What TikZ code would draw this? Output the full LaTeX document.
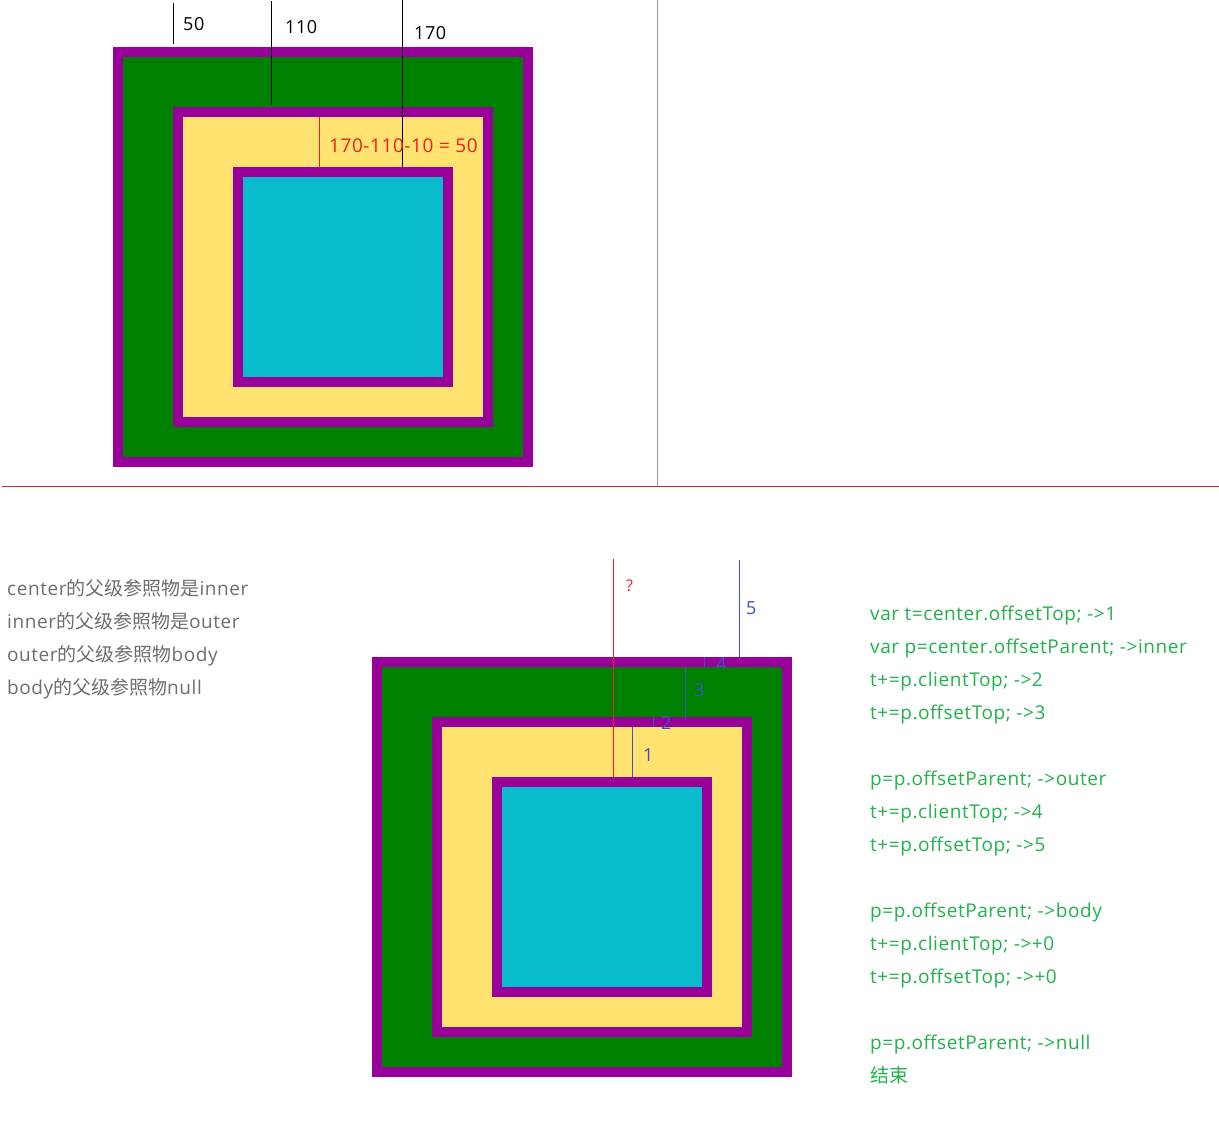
\documentclass[tikz,border=0pt]{standalone}
\usepackage{fontspec}
\setmainfont[LetterSpace=3]{Open Sans}
\newfontfamily\cjk{Noto Sans CJK SC}
\definecolor{bpurple}{HTML}{990099}
\definecolor{bgreen}{HTML}{008000}
\definecolor{byellow}{HTML}{FFE26F}
\definecolor{bcyan}{HTML}{08BCCE}
\definecolor{tred}{HTML}{F01E23}
\definecolor{tblue}{HTML}{3F51C8}
\definecolor{tgreen}{HTML}{22B14C}
\definecolor{tgray}{HTML}{6E6E6E}
\tikzset{
  thinline/.style={line width=1pt},
  lbl/.style={inner sep=0pt, anchor=base west, font=\fontsize{18}{20}\selectfont},
  codetxt/.style={inner sep=0pt, anchor=base west, text=tgreen, font=\fontsize{19}{21}\selectfont},
  graytxt/.style={inner sep=0pt, anchor=base west, text=tgray, font=\fontsize{19}{21}\selectfont},
}
\newcommand{\nestboxes}[2]{%
  \begin{scope}[shift={(#1,#2)}]
    \fill[bpurple] (113,47) rectangle (533,467);
    \fill[bgreen] (123,57) rectangle (523,457);
    \fill[bpurple] (173,107) rectangle (493,427);
    \fill[byellow] (183,117) rectangle (483,417);
    \fill[bpurple] (233,167) rectangle (453,387);
    \fill[bcyan] (243,177) rectangle (443,377);
  \end{scope}}
\begin{document}
\begin{tikzpicture}[x=1pt,y=-1pt]
\useasboundingbox[fill=white] (0,0) rectangle (1219,1139);
% dividers
\draw[thinline, gray!80] (657,0) -- (657,486);
\draw[thinline, tred] (2,486.5) -- (1219,486.5);
% top diagram
\nestboxes{0}{0}
\coordinate (a1) at (173.5,3); \coordinate (a2) at (173.5,44);
\coordinate (b1) at (271.5,1); \coordinate (b2) at (271.5,105);
\coordinate (c1) at (402.5,0); \coordinate (c2) at (402.5,167);
\coordinate (r1) at (319.5,117); \coordinate (r2) at (319.5,168);
\draw[thinline, black] (a1) -- (a2);
\draw[thinline, black] (b1) -- (b2);
\draw[thinline, black] (c1) -- (c2);
\draw[thinline, tred] (r1) -- (r2);
\node[lbl] (l50) at (183,31) {50};
\node[lbl] (l110) at (285,34) {110};
\node[lbl] (l170) at (414,40) {170};
\node[lbl, text=tred, font=\fontsize{19}{20}\selectfont] (eq) at (329,153) {170-110-10 = 50};
% bottom diagram
\nestboxes{259}{610}
\coordinate (q1) at (613.5,559); \coordinate (q2) at (613.5,777);
\coordinate (f1) at (739.5,560); \coordinate (f2) at (739.5,658);
\coordinate (g1) at (704.5,657); \coordinate (g2) at (704.5,667);
\coordinate (h1) at (685.5,667); \coordinate (h2) at (685.5,718);
\coordinate (i1) at (653.5,717); \coordinate (i2) at (653.5,727);
\coordinate (j1) at (632.5,727); \coordinate (j2) at (632.5,777);
\draw[thinline, tred] (q1) -- (q2);
\draw[thinline, tblue] (f1) -- (f2);
\draw[thinline, tblue] (g1) -- (g2);
\draw[thinline, tblue] (h1) -- (h2);
\draw[thinline, tblue] (i1) -- (i2);
\draw[thinline, tblue] (j1) -- (j2);
\node[lbl, text=tred, font=\fontsize{16}{18}\selectfont] (qm) at (626,591) {?};
\node[lbl, text=tblue] (n5) at (746,614) {5};
\node[lbl, text=tblue] (n4) at (716,670) {4};
\node[lbl, text=tblue] (n3) at (694,696) {3};
\node[lbl, text=tblue] (n2) at (661,729) {2};
\node[lbl, text=tblue] (n1) at (643,761) {1};
% left text
\node[graytxt] (t1) at (7,595) {center{\cjk 的父级参照物是}inner};
\node[graytxt] (t2) at (7,628) {inner{\cjk 的父级参照物是}outer};
\node[graytxt] (t3) at (7,661) {outer{\cjk 的父级参照物}body};
\node[graytxt] (t4) at (7,694) {body{\cjk 的父级参照物}null};
% right code
\node[codetxt] (c01) at (870,620) {var t=center.offsetTop; ->1};
\node[codetxt] (c02) at (870,653) {var p=center.offsetParent; ->inner};
\node[codetxt] (c03) at (870,686) {t+=p.clientTop; ->2};
\node[codetxt] (c04) at (870,719) {t+=p.offsetTop; ->3};
\node[codetxt] (c05) at (870,785) {p=p.offsetParent; ->outer};
\node[codetxt] (c06) at (870,818) {t+=p.clientTop; ->4};
\node[codetxt] (c07) at (870,851) {t+=p.offsetTop; ->5};
\node[codetxt] (c08) at (870,917) {p=p.offsetParent; ->body};
\node[codetxt] (c09) at (870,950) {t+=p.clientTop; ->+0};
\node[codetxt] (c10) at (870,983) {t+=p.offsetTop; ->+0};
\node[codetxt] (c11) at (870,1049) {p=p.offsetParent; ->null};
\node[codetxt] (c12) at (870,1082) {{\cjk 结束}};
\end{tikzpicture}
\end{document}
